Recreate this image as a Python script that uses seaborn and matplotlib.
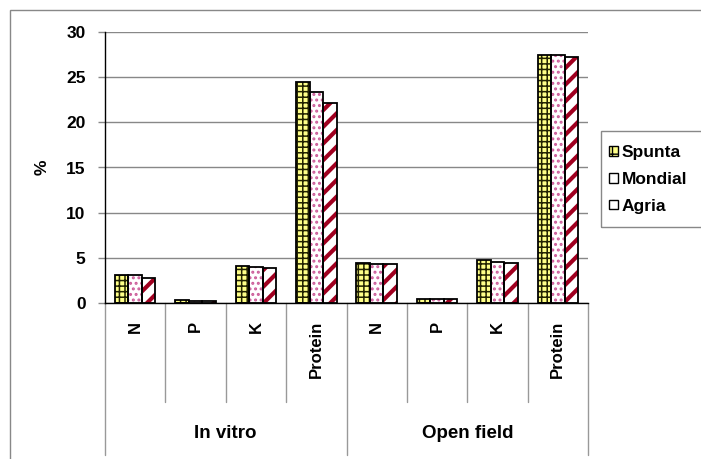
import matplotlib
matplotlib.use("Agg")
import matplotlib.pyplot as plt
from matplotlib.patches import Rectangle, Patch
from matplotlib.lines import Line2D
import seaborn as sns
import pandas as pd

# ---- data ----
groups = ["In vitro", "Open field"]
nutrients = ["N", "P", "K", "Protein"]
varieties = ["Spunta", "Mondial", "Agria"]
spunta = [3.15, 0.30, 4.10, 24.50, 4.45, 0.45, 4.72, 27.50]
mondial = [3.05, 0.25, 4.00, 23.35, 4.35, 0.42, 4.50, 27.45]
agria = [2.75, 0.22, 3.85, 22.15, 4.35, 0.42, 4.43, 27.20]
y_ticks = [0, 5, 10, 15, 20, 25, 30]

cat_ids = [f"{g}|{n}" for g in groups for n in nutrients]
series = {"Spunta": spunta, "Mondial": mondial, "Agria": agria}
rows = []
for v in varieties:
    for c, val in zip(cat_ids, series[v]):
        rows.append({"cat": c, "variety": v, "value": val})
df = pd.DataFrame(rows)

sns.set_theme(style="white")
plt.rcParams["font.family"] = ["Liberation Sans", "DejaVu Sans"]
plt.rcParams["font.weight"] = "bold"
plt.rcParams["hatch.linewidth"] = 1.0
plt.rcParams["text.color"] = "black"
plt.rcParams["axes.labelcolor"] = "black"
plt.rcParams["xtick.labelcolor"] = "black"
plt.rcParams["ytick.labelcolor"] = "black"

W, H = 701, 459
fig = plt.figure(figsize=(W / 100, H / 100), dpi=100)
ax_l, ax_r, ax_b, ax_t = 105, 588, 303, 32
ax = fig.add_axes([ax_l / W, 1 - ax_b / H, (ax_r - ax_l) / W, (ax_b - ax_t) / H])

sns.barplot(data=df, x="cat", y="value", hue="variety", order=cat_ids,
            hue_order=varieties, width=0.67, gap=0, ax=ax, legend=False,
            errorbar=None, saturation=1)

def set_hlw(p, lw):
    if hasattr(p, "set_hatch_linewidth"):
        p.set_hatch_linewidth(lw)

styles = {
    "Spunta": dict(face="#FFFF88", hcol="#222200", hatch="+++", hlw=1.1),
    "Mondial": dict(face="white", hcol="#CC5C99", hatch="...", hlw=1.4),
    "Agria": dict(face="white", hcol="#A00020", hatch="//", hlw=3.0),
}
for cont, v in zip(ax.containers, varieties):
    st = styles[v]
    for bar in cont:
        bar.set_facecolor(st["face"])
        bar.set_edgecolor(st["hcol"])
        bar.set_hatch(st["hatch"])
        bar.set_linewidth(0)
        set_hlw(bar, st["hlw"])
        x, y = bar.get_x(), bar.get_y()
        w, h = bar.get_width(), bar.get_height()
        ax.add_patch(Rectangle((x, y), w, h, fill=False, edgecolor="black",
                               linewidth=1.3, zorder=bar.get_zorder() + 0.1))

ax.set_xlim(-0.5, len(cat_ids) - 0.5)
ax.set_ylim(0, 30)
ax.set_yticks(y_ticks)
ax.set_yticklabels([str(t) for t in y_ticks], fontsize=12.5, fontweight="bold",
                   color="black")
ax.yaxis.grid(True, color="#888888", linewidth=1)
ax.set_axisbelow(True)
ax.tick_params(axis="y", left=True, length=5, width=1, color="#888888", pad=9,
               labelcolor="black")
ax.set_xticks(range(len(cat_ids)))
ax.set_xticklabels(nutrients * len(groups), rotation=90, fontsize=12,
                   fontweight="bold", color="black")
ax.tick_params(axis="x", bottom=False, length=0, pad=13, labelcolor="black")
ax.set_xlabel("")
ax.set_ylabel("%", fontsize=12.5, fontweight="bold", labelpad=12, color="black")
for s in ["top", "right"]:
    ax.spines[s].set_visible(False)
ax.spines["left"].set_color("black")
ax.spines["bottom"].set_color("black")
ax.spines["left"].set_linewidth(1)
ax.spines["bottom"].set_linewidth(1)

# category separators and group labels below axis
ph = ax_b - ax_t
tr = ax.get_xaxis_transform()
for i in range(len(cat_ids) + 1):
    xb = i - 0.5
    bottom = -(455 - ax_b) / ph if i % len(nutrients) == 0 else -(402 - ax_b) / ph
    ax.add_line(Line2D([xb, xb], [0, bottom], transform=tr, color="#999999",
                       linewidth=1, clip_on=False))
for gi, g in enumerate(groups):
    xc = gi * len(nutrients) + (len(nutrients) - 1) / 2
    ax.text(xc, -(433 - ax_b) / ph, g, transform=tr, ha="center", va="center",
            fontsize=13.5, fontweight="bold", color="black")

# legend
handles = [
    Patch(facecolor="#FFFF88", edgecolor="black", hatch="++", linewidth=1),
    Patch(facecolor="white", edgecolor="black", linewidth=1),
    Patch(facecolor="white", edgecolor="black", linewidth=1),
]
leg = fig.legend(handles, varieties, loc="upper left", frameon=False,
                 bbox_to_anchor=(609 / W, 1 - 145 / H), borderpad=0,
                 borderaxespad=0, handlelength=0.5, handleheight=0.5,
                 handletextpad=0.25, labelspacing=0.68,
                 prop={"size": 12.5, "weight": "bold"})
for t in leg.get_texts():
    t.set_color("black")
fig.add_artist(Rectangle((601 / W, 1 - 227 / H), 130 / W, 96 / H,
                         transform=fig.transFigure, fill=False,
                         edgecolor="#888888", linewidth=1))
# outer chart border
fig.add_artist(Rectangle((9.5 / W, -10 / H), 720 / W, (H - 10 + 10) / H,
                         transform=fig.transFigure, fill=False,
                         edgecolor="#888888", linewidth=1))

fig.savefig("out.png", dpi=100)
